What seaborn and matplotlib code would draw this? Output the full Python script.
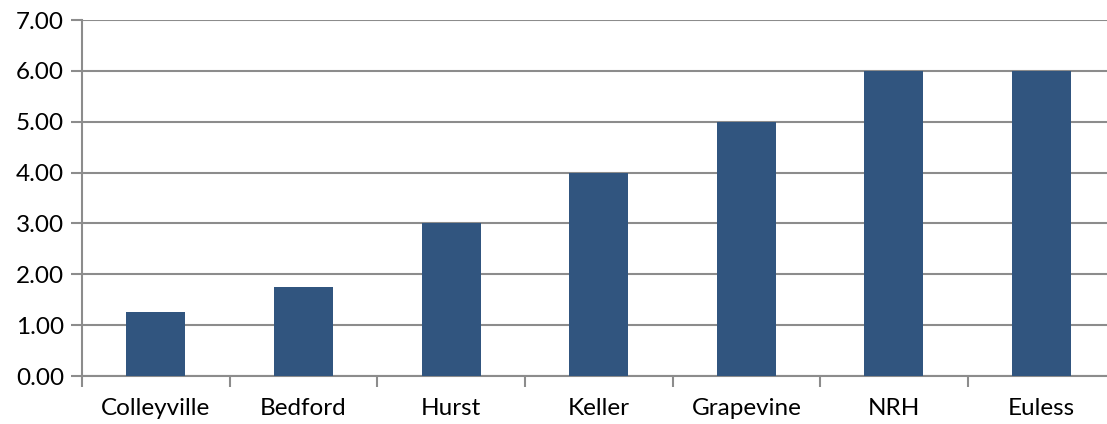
import numpy as np
import pandas as pd
import matplotlib
matplotlib.use("Agg")
import matplotlib.pyplot as plt
import seaborn as sns

cities = ["Colleyville", "Bedford", "Hurst", "Keller", "Grapevine", "NRH", "Euless"]
values = [1.25, 1.75, 3.0, 4.0, 5.0, 6.0, 6.0]
y_ticks = [0, 1, 2, 3, 4, 5, 6, 7]

df = pd.DataFrame({"city": cities, "value": values})

sns.set_theme(style="white")
plt.rcParams['font.family'] = ['Lato', 'DejaVu Sans']

fig = plt.figure(figsize=(11.07, 4.24), dpi=100)
# plot area runs a little past the right edge of the image, as in the reference
ax = fig.add_axes([0.0741, 0.1132, 0.9335, 0.8396])

grid_col = "#8c8c8c"
sns.barplot(data=df, x="city", y="value", color="#31557f", width=0.40,
            saturation=1, linewidth=0, edgecolor="none", ax=ax, zorder=3)

ax.set_ylim(0, 7)
ax.set_xlim(-0.5, len(cities) - 0.5)
ax.set_yticks(y_ticks)
ax.set_yticklabels([f"{v:.2f}" for v in y_ticks])
ax.yaxis.grid(True, color=grid_col, linewidth=1.5, zorder=0)
ax.set_axisbelow(True)

ax.set_xticks(list(np.arange(len(cities)) - 0.5) + [len(cities) - 0.5], minor=True)
ax.tick_params(axis="x", which="major", length=0, pad=16, labelsize=17.5, colors="black")
ax.tick_params(axis="x", which="minor", length=8, width=1.5, color=grid_col, bottom=True)
ax.tick_params(axis="y", length=8, width=1.5, color=grid_col, left=True,
               labelsize=17.5, pad=5, labelcolor="black")

for s in ["top", "right"]:
    ax.spines[s].set_visible(False)
for s in ["left", "bottom"]:
    ax.spines[s].set_color(grid_col)
    ax.spines[s].set_linewidth(1.5)

ax.set_xlabel("")
ax.set_ylabel("")

fig.savefig("out.png", dpi=100)
